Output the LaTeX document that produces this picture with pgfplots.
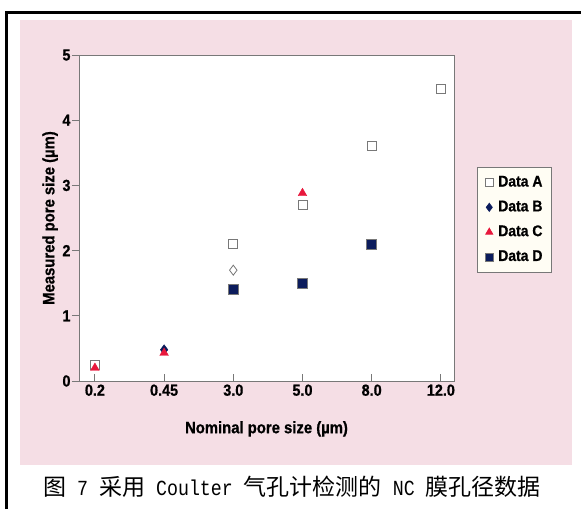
\documentclass[border=0pt]{standalone}
\usepackage{fontspec}
\usepackage{pgfplots}
\pgfplotsset{compat=1.18}
\setmainfont{Liberation Sans}
\newfontfamily\chartfont{Liberation Sans}[FakeStretch=0.9, BoldFeatures={FakeBold=0.8}]
\newfontfamily\cjk{Noto Sans CJK SC}
\newfontfamily\mono{Liberation Mono}[FakeStretch=0.85]
\definecolor{pinkbg}{RGB}{245,222,229}
\definecolor{legbg}{RGB}{255,253,244}
\definecolor{navy}{RGB}{12,28,92}
\definecolor{redm}{RGB}{232,24,60}
\definecolor{axgray}{RGB}{120,120,120}
\newcommand{\C}[1]{{\cjk\fontsize{23}{26}\selectfont #1}}
\newcommand{\M}[1]{{\mono\fontsize{21.5}{24}\selectfont #1}}
\newcommand{\hs}{\hspace{11pt}}
\begin{document}
\begin{tikzpicture}[x=1pt,y=1pt]
\useasboundingbox (0,0) rectangle (581,509);
\fill[white] (0,0) rectangle (581,509);
\fill[pinkbg] (20,44) rectangle (572,489);
\draw[line width=3pt] (6.5,0) -- (6.5,496) -- (581,496);
\begin{axis}[
  at={(79pt,128pt)}, anchor=south west, scale only axis,
  width=375pt, height=326pt,
  xmin=-0.23, xmax=5.19, ymin=0, ymax=5,
  xtick={0,1,2,3,4,5}, xticklabels={0.2,0.45,3.0,5.0,8.0,12.0},
  ytick={0,1,2,3,4,5},
  xtick pos=bottom, ytick pos=left,
  xtick align=inside, ytick align=outside,
  major tick length=7pt,
  axis background/.style={fill=white},
  axis line style={axgray, line width=0.9pt},
  tick style={axgray, line width=0.9pt},
  /pgf/number format/assume math mode=true,
  tick label style={font=\chartfont\bfseries\fontsize{16}{18}\selectfont, black},
  yticklabel style={xshift=2pt},
  label style={font=\chartfont\bfseries\fontsize{16.5}{18}\selectfont, black},
  xlabel={Nominal pore size (µm)},
  ylabel={Measured pore size (µm)},
  xlabel style={at={(axis description cs:0.5,-0.147)}, anchor=center},
  ylabel style={at={(axis description cs:-0.077,0.5)}, anchor=center},
  legend style={at={(axis description cs:1.061,0.656)}, anchor=north west,
    fill=legbg, draw=axgray, line width=0.8pt,
    font=\chartfont\bfseries\fontsize{15.5}{17}\selectfont,
    nodes={inner sep=1pt, text height=10.5pt, text depth=2.5pt},
    /tikz/every odd column/.append style={column sep=4pt},
    row sep=9.8pt, inner xsep=8pt, inner ysep=7.5pt},
  legend cell align=left,
  legend image code/.code={\draw[#1, mark size=4pt] plot coordinates {(0.12cm,0cm)};},
]
\addplot[only marks, mark=square*, mark size=4.5pt, mark options={fill=white, draw=axgray, line width=0.9pt}]
  coordinates {(0,0.25) (2,2.1) (3,2.7) (4,3.6) (5,4.48)};
\addlegendentry{Data A}
\addplot[only marks, mark=diamond*, mark size=5pt, mark options={fill=navy, draw=navy}]
  coordinates {(1,0.48)};
\addlegendentry{Data B}
\addplot[only marks, mark=triangle*, mark size=5pt, mark options={fill=redm, draw=redm}]
  coordinates {(0,0.2) (1,0.43) (3,2.88)};
\addlegendentry{Data C}
\addplot[only marks, mark=square*, mark size=5pt, mark options={fill=navy, draw=axgray, line width=0.5pt}]
  coordinates {(2,1.4) (3,1.5) (4,2.1)};
\addlegendentry{Data D}
\addplot[forget plot, only marks, mark=diamond*, mark size=5pt, mark options={fill=white, draw=axgray, line width=0.8pt}]
  coordinates {(2,1.7)};
\end{axis}
\node[inner sep=0pt] at (292,22)
  {\C{图}\hs\M{7}\hs\C{采用}\hs\M{Coulter}\hs\C{气孔计检测的}\hs\M{NC}\hs\C{膜孔径数据}};
\end{tikzpicture}
\end{document}
